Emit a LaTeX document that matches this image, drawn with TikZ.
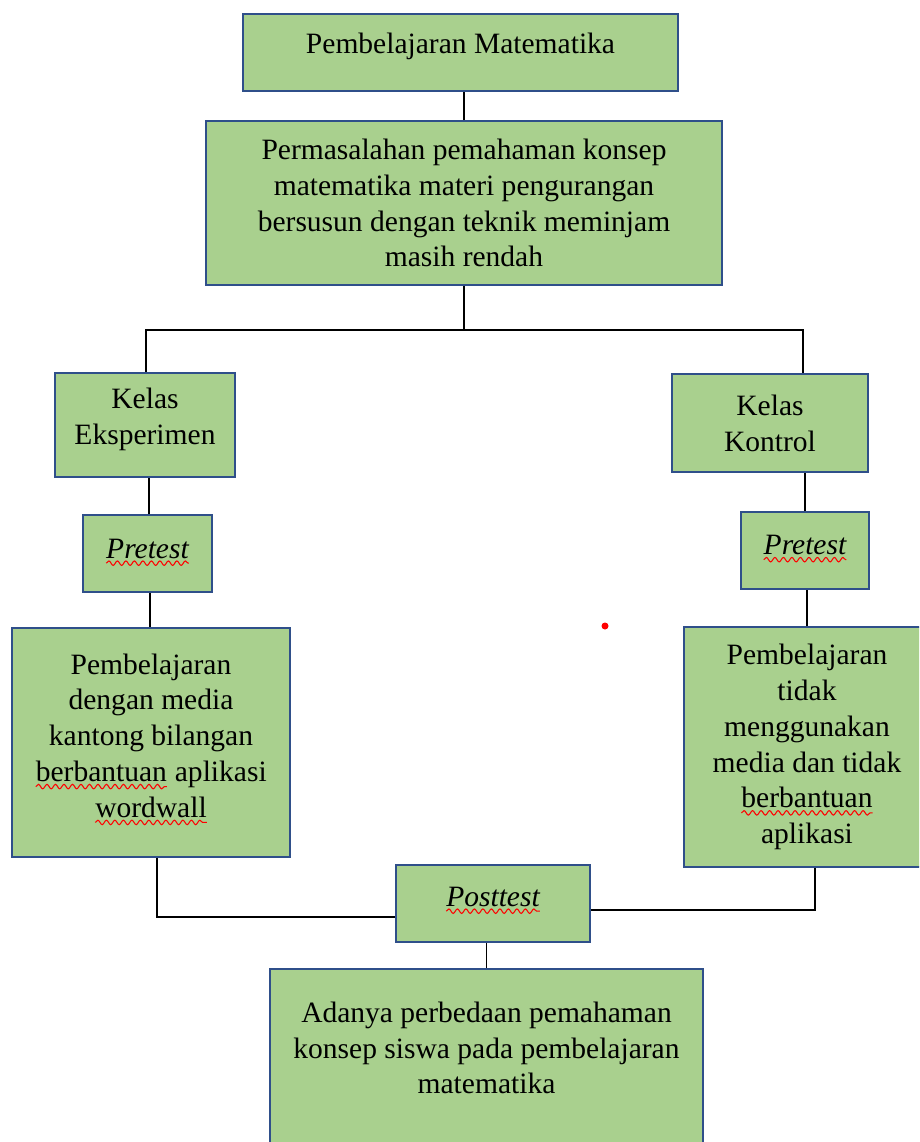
\documentclass[tikz,border=0pt]{standalone}
\usepackage{fontspec}
\setmainfont{Liberation Serif}
\usepackage{xcolor}
\usepackage{tikz}
\usetikzlibrary{decorations.pathmorphing}

\definecolor{hijau}{HTML}{A9D08E}
\definecolor{garis}{HTML}{2F4F8A}
% wavy red line under a word, like a spell check mark
\newcommand{\salah}[1]{\tikz[baseline=(kata.base)]{\node[draw=none, fill=none, inner sep=0pt, outer sep=0pt,
      minimum width=0pt, minimum height=0pt, text depth=, anchor=center] (kata) {#1};
    \draw[red, line width=0.6pt, decorate, decoration={snake, amplitude=0.045cm, segment length=0.17cm}]
      ([yshift=-0.1cm]kata.base west) -- ([yshift=-0.1cm]kata.base east);}}

\begin{document}
\begin{tikzpicture}
    [every node/.style={font=\fontsize{16.8}{20.4}\selectfont},
     kotak/.style={draw=garis, line width=0.9pt, fill=hijau, align=center, inner sep=0pt},
     hubung/.style={draw=black, line width=0.7pt}]
    \useasboundingbox (0,0) rectangle (18.38,-22.84);
    \clip (0,0) rectangle (18.38,-22.84);

    \node[kotak, minimum width=8.7cm, minimum height=1.54cm, text depth=0.38cm] (judul) at (9.21,-1.05) {Pembelajaran Matematika};
    \node[kotak, minimum width=10.32cm, minimum height=3.28cm] (masalah) at (9.28,-4.06)
        {Permasalahan pemahaman konsep\\ matematika materi pengurangan\\ bersusun dengan teknik meminjam\\ masih rendah};
    \node[kotak, minimum width=3.6cm, minimum height=2.08cm, text depth=0.34cm] (eksp) at (2.9,-8.5) {Kelas\\ Eksperimen};
    \node[kotak, minimum width=3.92cm, minimum height=1.96cm] (kontrol) at (15.4,-8.46) {Kelas\\ Kontrol};
    \node[kotak, minimum width=2.58cm, minimum height=1.54cm, text depth=0.2cm] (preA) at (2.95,-11.07) {\salah{\itshape Pretest}};
    \node[kotak, minimum width=2.56cm, minimum height=1.54cm, text depth=0.22cm] (preB) at (16.1,-11.01) {\salah{\itshape Pretest}};
    \node[kotak, minimum width=5.56cm, minimum height=4.58cm, text depth=0.28cm] (kiri) at (3.02,-14.85)
        {Pembelajaran\\ dengan media\\ kantong bilangan\\ \salah{berbantuan} aplikasi\\ \salah{wordwall}};
    \node[kotak, minimum width=4.92cm, minimum height=4.8cm] (kanan) at (16.14,-14.94)
        {Pembelajaran\\ tidak\\ menggunakan\\ media dan tidak\\ \salah{berbantuan}\\ aplikasi};
    \node[kotak, minimum width=3.88cm, minimum height=1.54cm, text depth=0.28cm] (post) at (9.86,-18.07) {\salah{\itshape Posttest}};
    \node[kotak, minimum width=8.66cm, anchor=north, inner ysep=0.66cm, text depth=2.3cm] (hasil) at (9.73,-19.36)
        {Adanya perbedaan pemahaman\\ konsep siswa pada pembelajaran\\ matematika};

    \coordinate (cabang) at (9.28,-6.6);
    \draw[hubung] (masalah.north) -- (masalah.north |- judul.south);
    \draw[hubung] (masalah.south) -- (cabang);
    \draw[hubung] (cabang) -| ([xshift=0.02cm]eksp.north);
    \draw[hubung] (cabang) -| ([xshift=0.66cm]kontrol.north);
    \draw[hubung] ([xshift=0.03cm]preA.north) -- ([xshift=0.03cm]preA.north |- eksp.south);
    \draw[hubung] ([xshift=0.05cm]preA.south) -- ([xshift=0.05cm]preA.south |- kiri.north);
    \draw[hubung] (preB.north) -- (preB.north |- kontrol.south);
    \draw[hubung] (kanan.north) -- (kanan.north |- preB.south);
    \draw[hubung] ([xshift=0.12cm]kiri.south) |- ([yshift=-0.27cm]post.west);
    \draw[hubung] ([xshift=0.16cm]kanan.south) |- ([yshift=-0.13cm]post.east);
    \draw[hubung] (hasil.north) -- (hasil.north |- post.south);

    \fill[red] (12.1,-12.52) circle (0.07);
\end{tikzpicture}
\end{document}
